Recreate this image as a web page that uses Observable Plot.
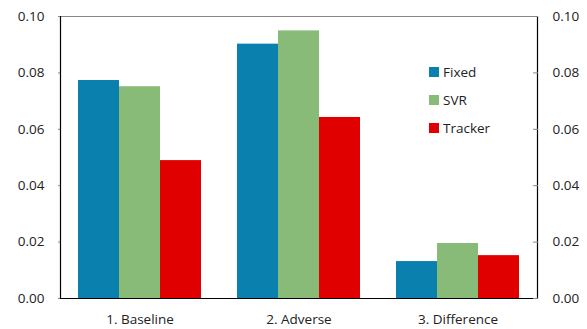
<!DOCTYPE html>
<html>
<head>
<meta charset="utf-8">
<script src="https://cdn.jsdelivr.net/npm/d3@7"></script>
<script src="https://cdn.jsdelivr.net/npm/@observablehq/plot@0.6"></script>
<style>
  html, body { margin: 0; padding: 0; background: #fff; }
  #wrap { position: relative; width: 587px; height: 329px; font-family: "Open Sans", sans-serif; }
  #legend { position: absolute; left: 429px; top: 58px; font-size: 13.5px; color: #222; }
  #legend .item { display: flex; align-items: center; height: 28px; }
  #legend .sw { width: 10px; height: 10px; margin-right: 4px; }
</style>
</head>
<body>
<div id="wrap"></div>
<script>
const groups = ["1. Baseline", "2. Adverse", "3. Difference"];
const series = ["Fixed", "SVR", "Tracker"];
const fixedValues = [0.0773, 0.0902, 0.0131];
const svrValues = [0.0751, 0.0949, 0.0195];
const trackerValues = [0.0489, 0.0642, 0.0152];
const colors = ["#0a80ae", "#88bb77", "#e00000"];
const yTicks = [0, 0.02, 0.04, 0.06, 0.08, 0.10];

const valuesBySeries = [fixedValues, svrValues, trackerValues];
const data = [];
groups.forEach((g, i) => series.forEach((s, j) => data.push({group: g, series: s, value: valuesBySeries[j][i]})));

const fmt = d3.format(".2f");
const chart = Plot.plot({
  width: 587,
  height: 329,
  marginLeft: 60,
  marginRight: 50,
  marginTop: 16,
  marginBottom: 31,
  style: {fontFamily: "Open Sans, sans-serif", fontSize: "13.5px", color: "#222", background: "#fff"},
  fx: {domain: groups, padding: 0, label: null},
  x: {domain: series, paddingInner: 0, paddingOuter: 0.393, axis: null},
  y: {domain: [0, 0.1]},
  color: {domain: series, range: colors},
  marks: [
    Plot.barY(data, {fx: "group", x: "series", y: "value", fill: "series"}),
    Plot.ruleY([0.1], {stroke: "#888", strokeWidth: 1}),
    Plot.ruleY([0], {stroke: "#000", strokeWidth: 1.2}),
    Plot.frame({anchor: "left", facetAnchor: "left", stroke: "#000", strokeWidth: 1.2}),
    Plot.frame({anchor: "right", facetAnchor: "right", stroke: "#000", strokeWidth: 1.2}),
    Plot.axisY({anchor: "left", ticks: yTicks, tickFormat: fmt, tickSize: 2, tickPadding: 14, stroke: "#888", label: null, fill: "#222"}),
    Plot.axisY({anchor: "right", ticks: yTicks, tickSize: 5, dx: -5, text: null, stroke: "#888", label: null}),
    Plot.axisY({anchor: "right", ticks: yTicks, tickFormat: fmt, tickSize: 0, tickPadding: 15, label: null, fill: "#222"}),
    Plot.axisFx({anchor: "bottom", tickSize: 0, tickPadding: 16, label: null, fill: "#222"})
  ]
});
document.getElementById("wrap").appendChild(chart);

const legend = document.createElement("div");
legend.id = "legend";
series.forEach((s, i) => {
  const it = document.createElement("div");
  it.className = "item";
  it.innerHTML = `<span class="sw" style="background:${colors[i]}"></span><span>${s}</span>`;
  legend.appendChild(it);
});
document.getElementById("wrap").appendChild(legend);
</script>
</body>
</html>
